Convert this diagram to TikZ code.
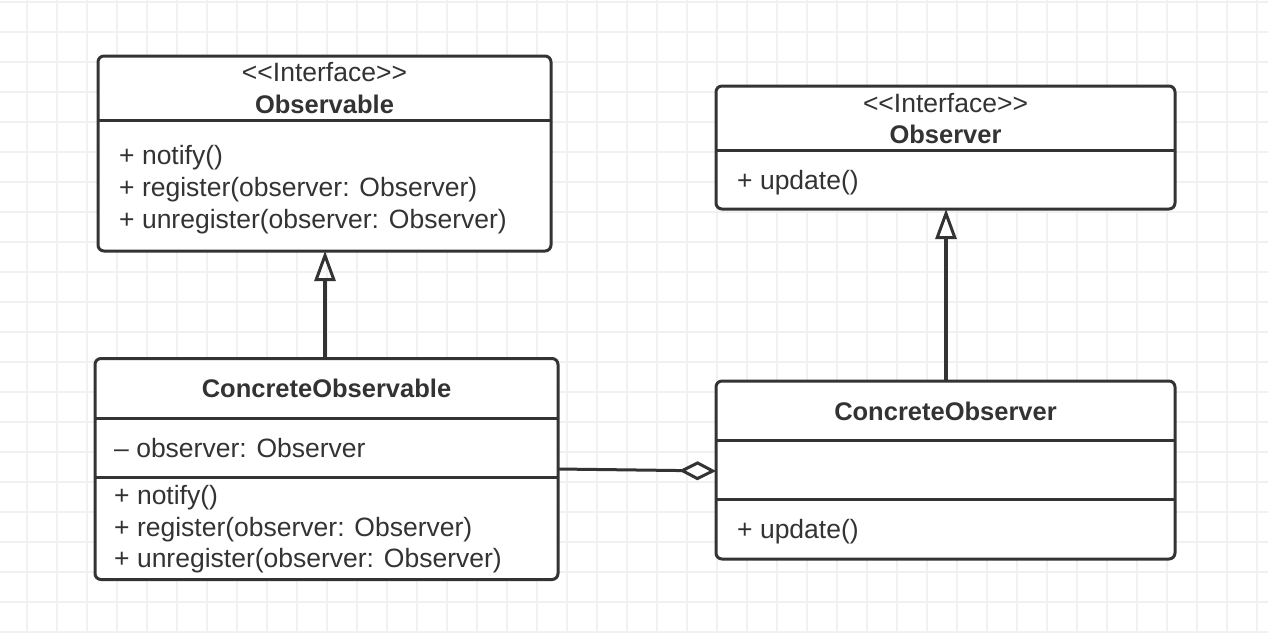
\documentclass[tikz,border=0pt]{standalone}
\usepackage{fontspec}
\setmainfont[Ligatures=TeXOff]{Liberation Sans}
\usetikzlibrary{arrows.meta}
\definecolor{ink}{HTML}{333333}
\definecolor{gridline}{HTML}{F1F1F1}
\tikzset{
  classbox/.style={draw=ink, line width=3pt, rounded corners=6pt, fill=white,
    inner sep=0pt, outer sep=0pt, anchor=north west},
  divider/.style={draw=ink, line width=3pt},
  member/.style={font=\fontsize{26.5}{30}\selectfont, text=ink, anchor=base west, inner sep=0pt},
  stereo/.style={font=\fontsize{26.5}{30}\selectfont, text=ink, anchor=base, inner sep=0pt},
  classname/.style={font=\fontsize{25.5}{30}\selectfont\bfseries, text=ink, anchor=base, inner sep=0pt},
  inherit/.style={draw=ink, line width=3.5pt, -{Triangle[open, length=30pt, width=21pt, line width=3pt]}},
  aggregate/.style={draw=ink, line width=3pt, -{Diamond[open, length=37pt, width=19pt, line width=3pt]}},
  gridrule/.style={draw=gridline, line width=2pt}
}
\begin{document}
\begin{tikzpicture}[x=1pt, y=-1pt]
\useasboundingbox (0,0) rectangle (1268,632);
\fill[white] (0,0) rectangle (1268,632);
% background grid
\foreach \gx in {0,...,41} { \draw[gridrule] (27+30*\gx,0) -- (27+30*\gx,632); }
\foreach \gy in {0,...,21} { \draw[gridrule] (0,2.3+30*\gy) -- (1268,2.3+30*\gy); }

% Observable interface
\node[classbox, minimum width=453pt, minimum height=195pt] (obs) at (98,56) {};
\draw[divider] (obs.west |- 0,120) -- (obs.east |- 0,120);
\node[stereo] (obsStereo) at (324.5,81.7) {<<Interface>>};
\node[classname] (obsName) at (324.5,113.3) {Observable};
\node[member] (obsM1) at (119,164) {+ notify()};
\node[member] (obsM2) at (119,196) {+ register(observer: Observer)};
\node[member] (obsM3) at (119,228) {+ unregister(observer: Observer)};

% Observer interface
\node[classbox, minimum width=459pt, minimum height=123pt] (obsr) at (716,86) {};
\draw[divider] (obsr.west |- 0,150) -- (obsr.east |- 0,150);
\node[stereo] (obsrStereo) at (945.5,112) {<<Interface>>};
\node[classname] (obsrName) at (945.5,143.5) {Observer};
\node[member] (obsrM1) at (737,189.5) {+ update()};

% ConcreteObservable
\node[classbox, minimum width=463pt, minimum height=221pt] (cobs) at (95,358.5) {};
\draw[divider] (cobs.west |- 0,418.5) -- (cobs.east |- 0,418.5);
\draw[divider] (cobs.west |- 0,477.5) -- (cobs.east |- 0,477.5);
\node[classname] (cobsName) at (326.5,397) {ConcreteObservable};
\node[member] (cobsA1) at (114,457) {– observer: Observer};
\node[member] (cobsM1) at (114,504) {+ notify()};
\node[member] (cobsM2) at (114,536) {+ register(observer: Observer)};
\node[member] (cobsM3) at (114,567) {+ unregister(observer: Observer)};

% ConcreteObserver
\node[classbox, minimum width=459pt, minimum height=178pt] (cobsr) at (716,381) {};
\draw[divider] (cobsr.west |- 0,440) -- (cobsr.east |- 0,440);
\draw[divider] (cobsr.west |- 0,499.5) -- (cobsr.east |- 0,499.5);
\node[classname] (cobsrName) at (945.5,420) {ConcreteObserver};
\node[member] (cobsrM1) at (737,538) {+ update()};

% connectors
\draw[inherit] (cobs.north -| 325,0) -- (obs.south -| 325,0);
\draw[inherit] (cobsr.north -| 946,0) -- (obsr.south -| 946,0);
\draw[aggregate] (cobs.east |- 0,469) -- (cobsr.west |- 0,471);
\end{tikzpicture}
\end{document}
